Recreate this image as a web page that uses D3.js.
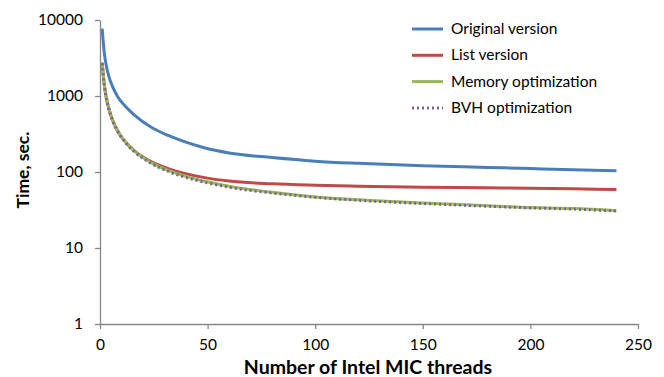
<!DOCTYPE html>
<html>
<head>
<meta charset="utf-8">
<script src="https://cdn.jsdelivr.net/npm/d3@7"></script>
<style>
  body { margin: 0; background: #fff; }
  svg { font-family: Lato, "Liberation Sans", sans-serif; }
</style>
</head>
<body>
<div id="chart"></div>
<script>
'use strict';
// data
const threads = [1, 2, 3, 4, 6, 8, 12, 16, 24, 32, 48, 60, 80, 100, 120, 150, 180, 200, 220, 240]
const originalTimes = [7700, 3700, 2450, 1850, 1300, 1000, 720, 560, 385, 300, 210, 178, 155, 139, 130, 121, 115, 111, 107, 104]
const listTimes = [2750, 1400, 930, 700, 470, 355, 245, 190, 136, 110, 85, 76, 70, 67, 65, 63, 62, 61, 60, 59]
const memoryTimes = [2750, 1400, 930, 700, 470, 355, 245, 188, 132, 104, 76, 65, 54, 47, 43, 39, 36, 34, 33, 31]
const bvhTimes = [2700, 1380, 915, 690, 463, 350, 241, 185, 129, 101, 74, 63, 53, 46.5, 42.5, 38.5, 35.5, 33.7, 32.5, 30.7]
const seriesNames = ['Original version', 'List version', 'Memory optimization', 'BVH optimization']
const xTicks = [0, 50, 100, 150, 200, 250]
const yTicks = [1, 10, 100, 1000, 10000]

const colors = ['#4a7ebb', '#be4b48', '#98b954', '#7d60a0']
const series = [originalTimes, listTimes, memoryTimes, bvhTimes]

const W = 664, H = 377
const svg = d3.select('#chart').append('svg')
    .attr('width', W)
    .attr('height', H)

const x = d3.scaleLinear().domain([0, 250]).range([100, 638])
const y = d3.scaleLog().domain([1, 10000]).range([324, 20])
const axisColor = '#868686'

// x axis
const xAxis = svg.append('g')
    .attr('transform', `translate(0,${y(1)})`)
    .call(d3.axisBottom(x).tickValues(xTicks).tickSize(5).tickSizeOuter(0).tickPadding(10))
xAxis.select('.domain').attr('stroke', axisColor).attr('stroke-width', 1.3)
xAxis.selectAll('line').attr('stroke', axisColor).attr('stroke-width', 1.3)
xAxis.selectAll('text').attr('font-size', 15.5).attr('fill', '#000').attr('font-family', 'Lato')

// y axis
const yAxis = svg.append('g')
    .attr('transform', `translate(${x(0)},0)`)
    .call(d3.axisLeft(y).tickValues(yTicks).tickFormat(d3.format('d')).tickSize(5).tickSizeOuter(0).tickPadding(12))
yAxis.select('.domain').attr('stroke', axisColor).attr('stroke-width', 1.3)
yAxis.selectAll('line').attr('stroke', axisColor).attr('stroke-width', 1.3)
yAxis.selectAll('text').attr('font-size', 15.5).attr('fill', '#000').attr('font-family', 'Lato')

// series lines
const line = d3.line()
    .x((d, i) => x(threads[i]))
    .y(d => y(d))
    .curve(d3.curveMonotoneX)

series.forEach((vals, i) => {
    const p = svg.append('path').datum(vals)
        .attr('d', line)
        .attr('fill', 'none')
        .attr('stroke', colors[i])
        .attr('stroke-width', 3)
    if (i === 3) p.attr('stroke-dasharray', '2,3')
})

// axis titles
svg.append('text')
    .attr('x', 368)
    .attr('y', 374)
    .attr('text-anchor', 'middle')
    .attr('font-size', 19.5)
    .attr('font-weight', 'bold')
    .text('Number of Intel MIC threads')

svg.append('text')
    .attr('transform', `translate(29,170) rotate(-90)`)
    .attr('text-anchor', 'middle')
    .attr('font-size', 17.5)
    .attr('font-weight', 'bold')
    .text('Time, sec.')

// legend
const legend = svg.append('g')
seriesNames.forEach((name, i) => {
    const ly = 29 + i * 26.3
    const l = legend.append('line')
        .attr('x1', 412).attr('x2', 443)
        .attr('y1', ly).attr('y2', ly)
        .attr('stroke', colors[i])
        .attr('stroke-width', 3)
    if (i === 3) l.attr('stroke-dasharray', '2,3')
    legend.append('text')
        .attr('x', 451)
        .attr('y', ly + 5)
        .attr('font-size', 15.5)
        .text(name)
})
</script>
</body>
</html>
